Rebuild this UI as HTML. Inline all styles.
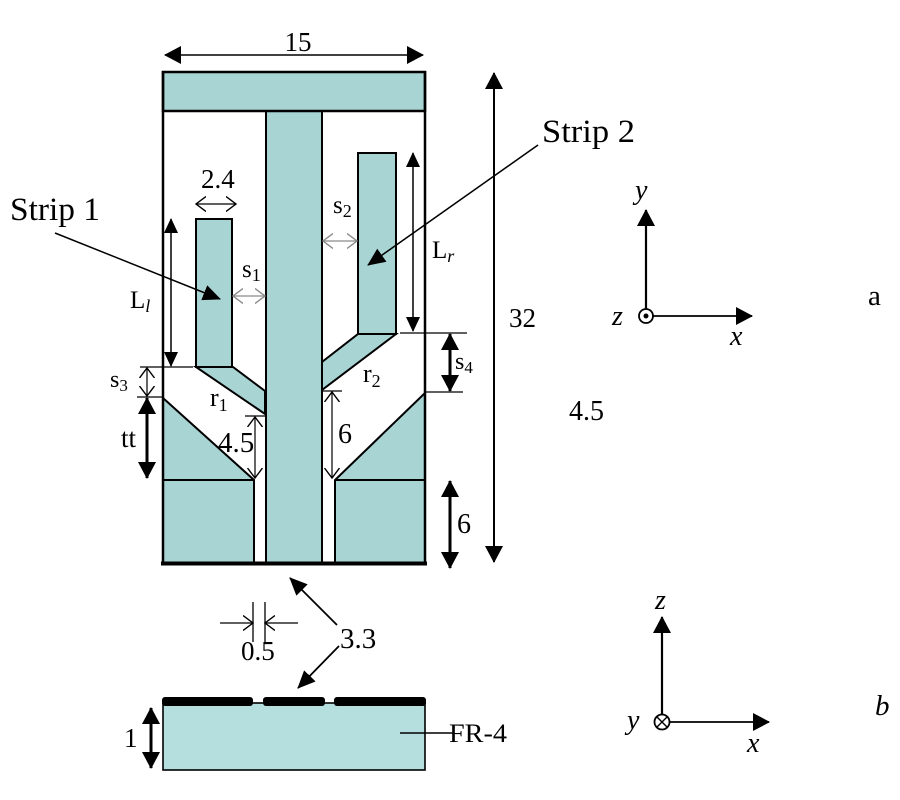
<!DOCTYPE html>
<html><head><meta charset="utf-8"><style>
html,body{margin:0;padding:0;background:#fff;}
svg{display:block;}
text{font-family:"Liberation Serif",serif;fill:#000;}
</style></head><body>
<svg width="900" height="800" viewBox="0 0 900 800" xmlns="http://www.w3.org/2000/svg">
<defs>
<marker id="big" markerUnits="userSpaceOnUse" viewBox="0 0 17 18" refX="16" refY="9" markerWidth="17" markerHeight="18" orient="auto-start-reverse"><path d="M0,0 L17,9 L0,18 Z" fill="#000"/></marker>
<marker id="med" markerUnits="userSpaceOnUse" viewBox="0 0 15 14" refX="14" refY="7" markerWidth="15" markerHeight="14" orient="auto-start-reverse"><path d="M0,0 L15,7 L0,14 Z" fill="#000"/></marker>
<marker id="lead" markerUnits="userSpaceOnUse" viewBox="0 0 18 16" refX="17" refY="8" markerWidth="18" markerHeight="16" orient="auto-start-reverse"><path d="M0,0 L18,8 L0,16 Z" fill="#000"/></marker>
<marker id="chev" markerUnits="userSpaceOnUse" viewBox="0 0 11 16" refX="10" refY="8" markerWidth="11" markerHeight="16" orient="auto-start-reverse"><path d="M0,0.5 L10,8 L0,15.5" fill="none" stroke="#000" stroke-width="1.4"/></marker>
<marker id="chevg" markerUnits="userSpaceOnUse" viewBox="0 0 11 16" refX="10" refY="8" markerWidth="11" markerHeight="16" orient="auto-start-reverse"><path d="M0,0.5 L10,8 L0,15.5" fill="none" stroke="#8a8a8a" stroke-width="1.4"/></marker>
</defs>

<!-- ===== Antenna top view ===== -->
<g stroke="#000" stroke-width="2" fill="#a9d4d4" stroke-linejoin="miter">
  <polygon points="163,398 254,480 254,563 163,563"/>
  <polygon points="425,393 335,480 335,563 425,563"/>
  <polygon points="196,367 233,367 265,391 265,414"/>
  <polygon points="358,334 396,334 322,390 322,362"/>
  <rect x="266" y="111" width="56" height="452"/>
  <rect x="196" y="219" width="36" height="148"/>
  <rect x="358" y="153" width="38" height="181"/>
  <rect x="163" y="72" width="262" height="39" stroke-width="2.5"/>
</g>
<g stroke="#000" fill="none">
  <line x1="163" y1="480" x2="254" y2="480" stroke-width="2"/>
  <line x1="335" y1="480" x2="425" y2="480" stroke-width="2"/>
  <line x1="163" y1="71" x2="163" y2="564" stroke-width="2.5"/>
  <line x1="425" y1="71" x2="425" y2="564" stroke-width="2.5"/>
  <line x1="161" y1="563.5" x2="427" y2="563.5" stroke-width="4"/>
</g>

<!-- ===== Dimensions ===== -->
<g stroke="#000" fill="none">
  <line x1="165" y1="55" x2="423" y2="55" stroke-width="1.6" marker-start="url(#big)" marker-end="url(#big)"/>
  <line x1="494" y1="73" x2="494" y2="562" stroke-width="2" marker-start="url(#big)" marker-end="url(#big)"/>
  <line x1="171" y1="219" x2="171" y2="366" stroke-width="1.5" marker-start="url(#med)" marker-end="url(#med)"/>
  <line x1="140" y1="367" x2="193" y2="367" stroke-width="1.3"/>
  <line x1="147" y1="368" x2="147" y2="396" stroke-width="1.2" marker-start="url(#chev)" marker-end="url(#chev)"/>
  <line x1="137" y1="397" x2="163" y2="397" stroke-width="1.3"/>
  <line x1="147" y1="398" x2="147" y2="478" stroke-width="3" marker-start="url(#big)" marker-end="url(#big)"/>
  <line x1="196" y1="204" x2="236" y2="204" stroke-width="1.3" marker-start="url(#chev)" marker-end="url(#chev)"/>
  <line x1="233" y1="296" x2="265" y2="296" stroke="#8a8a8a" stroke-width="1.3" marker-start="url(#chevg)" marker-end="url(#chevg)"/>
  <line x1="323" y1="241" x2="357" y2="241" stroke="#8a8a8a" stroke-width="1.3" marker-start="url(#chevg)" marker-end="url(#chevg)"/>
  <line x1="413" y1="153" x2="413" y2="331" stroke-width="1.5" marker-start="url(#med)" marker-end="url(#med)"/>
  <line x1="400" y1="333" x2="467" y2="333" stroke-width="1.3"/>
  <line x1="450" y1="334" x2="450" y2="391" stroke-width="3" marker-start="url(#big)" marker-end="url(#big)"/>
  <line x1="425" y1="392" x2="463" y2="392" stroke-width="1.3"/>
  <line x1="255" y1="417" x2="255" y2="478" stroke-width="1.2" marker-start="url(#chev)" marker-end="url(#chev)"/>
  <line x1="245" y1="416" x2="265" y2="416" stroke-width="1.3"/>
  <line x1="332" y1="392" x2="332" y2="478" stroke-width="1.2" marker-start="url(#chev)" marker-end="url(#chev)"/>
  <line x1="322" y1="391" x2="342" y2="391" stroke-width="1.3"/>
  <line x1="450" y1="481" x2="450" y2="568" stroke-width="3" marker-start="url(#big)" marker-end="url(#big)"/>
  <line x1="55" y1="233" x2="220" y2="299" stroke-width="1.5" marker-end="url(#lead)"/>
  <line x1="538" y1="145" x2="368" y2="265" stroke-width="1.5" marker-end="url(#lead)"/>
  <line x1="337" y1="625" x2="290" y2="578" stroke-width="1.8" marker-end="url(#lead)"/>
  <line x1="339" y1="646" x2="298" y2="688" stroke-width="1.8" marker-end="url(#lead)"/>
  <line x1="253" y1="602" x2="253" y2="642" stroke-width="1.3"/>
  <line x1="265" y1="602" x2="265" y2="642" stroke-width="1.3"/>
  <line x1="220" y1="623" x2="253" y2="623" stroke-width="1.3" marker-end="url(#chev)"/>
  <line x1="298" y1="623" x2="265" y2="623" stroke-width="1.3" marker-end="url(#chev)"/>
</g>

<!-- ===== Side view ===== -->
<rect x="163" y="703" width="262" height="67" fill="#b5dede" stroke="#000" stroke-width="1.6"/>
<g fill="#000">
  <rect x="162" y="697" width="91" height="9" rx="3"/>
  <rect x="263" y="697" width="62" height="9" rx="3"/>
  <rect x="334" y="697" width="92" height="9" rx="3"/>
</g>
<g stroke="#000" fill="none">
  <line x1="151" y1="708" x2="151" y2="768" stroke-width="3" marker-start="url(#big)" marker-end="url(#big)"/>
  <line x1="400" y1="733" x2="453" y2="733" stroke-width="1.6"/>
</g>

<!-- ===== Axes a ===== -->
<g stroke="#000" fill="none">
  <line x1="646" y1="309" x2="646" y2="210" stroke-width="2.2" marker-end="url(#big)"/>
  <line x1="653" y1="316" x2="752" y2="316" stroke-width="1.8" marker-end="url(#big)"/>
  <circle cx="646" cy="316" r="7" stroke-width="1.8" fill="#fff"/>
</g>
<circle cx="646" cy="316" r="2.5" fill="#000"/>

<!-- ===== Axes b ===== -->
<g stroke="#000" fill="none">
  <line x1="662" y1="715" x2="662" y2="617" stroke-width="2.2" marker-end="url(#big)"/>
  <line x1="670" y1="722" x2="769" y2="722" stroke-width="1.8" marker-end="url(#big)"/>
  <circle cx="662" cy="722" r="7.5" stroke-width="1.8" fill="#fff"/>
  <line x1="657" y1="717" x2="667" y2="727" stroke-width="1.4"/>
  <line x1="667" y1="717" x2="657" y2="727" stroke-width="1.4"/>
</g>

<!-- ===== Text ===== -->
<text x="298" y="51" font-size="27" text-anchor="middle">15</text>
<text x="10" y="220" font-size="33" textLength="90" lengthAdjust="spacingAndGlyphs">Strip 1</text>
<text x="542" y="142" font-size="33" textLength="93" lengthAdjust="spacingAndGlyphs">Strip 2</text>
<text x="201" y="188" font-size="27">2.4</text>
<text x="242" y="277" font-size="25">s<tspan font-size="18" dy="4">1</tspan></text>
<text x="333" y="213" font-size="25">s<tspan font-size="18" dy="4">2</tspan></text>
<text x="130" y="308" font-size="25">L<tspan font-size="18" dy="4" font-style="italic">l</tspan></text>
<text x="432" y="258" font-size="25">L<tspan font-size="18" dy="4" font-style="italic">r</tspan></text>
<text x="110" y="387" font-size="24">s<tspan font-size="17" dy="4">3</tspan></text>
<text x="455" y="369" font-size="24">s<tspan font-size="17" dy="4">4</tspan></text>
<text x="121" y="447" font-size="27">tt</text>
<text x="210" y="406" font-size="26">r<tspan font-size="18" dy="5">1</tspan></text>
<text x="363" y="382" font-size="26">r<tspan font-size="18" dy="5">2</tspan></text>
<text x="218" y="452" font-size="29">4.5</text>
<text x="338" y="443" font-size="28">6</text>
<text x="457" y="533" font-size="28">6</text>
<text x="509" y="327" font-size="27">32</text>
<text x="569" y="420" font-size="28">4.5</text>
<text x="340" y="648" font-size="29">3.3</text>
<text x="241" y="660" font-size="27">0.5</text>
<text x="124" y="747" font-size="27">1</text>
<text x="449" y="742" font-size="26" textLength="58" lengthAdjust="spacingAndGlyphs">FR-4</text>

<text x="635" y="199" font-size="28" font-style="italic">y</text>
<text x="612" y="325" font-size="28" font-style="italic">z</text>
<text x="730" y="345" font-size="28" font-style="italic">x</text>
<text x="868" y="305" font-size="29">a</text>

<text x="655" y="609" font-size="28" font-style="italic">z</text>
<text x="627" y="729" font-size="28" font-style="italic">y</text>
<text x="747" y="752" font-size="28" font-style="italic">x</text>
<text x="875" y="715" font-size="29" font-style="italic">b</text>
</svg>
</body></html>
